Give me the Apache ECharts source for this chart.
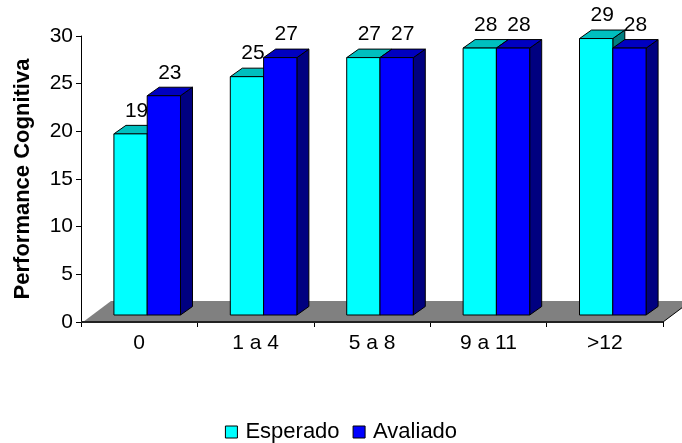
<!DOCTYPE html>
<html>
<head>
<meta charset="utf-8">
<script src="https://cdn.jsdelivr.net/npm/echarts@6/dist/echarts.min.js"></script>
<style>
  html, body { margin: 0; padding: 0; background: #fff; }
  #chart { width: 682px; height: 443px; }
</style>
</head>
<body>
<div id="chart"></div>
<script>
// Schooling bands and the cognitive performance scores per band
const categories = ['0', '1 a 4', '5 a 8', '9 a 11', '>12'];
const esperado = [19, 25, 27, 28, 29];
const avaliado = [23, 27, 27, 28, 28];
const yTicks = { min: 0, max: 30, interval: 5 };

const FONT = '"Liberation Sans", Arial, Helvetica, sans-serif';

// 3D box look: front face lifted off the axis, plus a receding top and side
const LIFT_X = 8, LIFT_Y = 7;      // front face offset from the axis floor line
const DEPTH_X = 12, DEPTH_Y = -8.5; // box depth
const BAR_FRAC = 0.286;             // bar width as a share of the category band

const palette = [
  { front: '#00FFFF', top: '#00BFBF', side: '#008080' },
  { front: '#0000FF', top: '#0000C0', side: '#000080' }
];

function boxRenderer(seriesIdx) {
  return function (params, api) {
    const cat = api.value(0);
    const val = api.value(1);
    const base = api.coord([cat, 0]);
    const top = api.coord([cat, val]);
    const band = api.size([1, 0])[0];
    const w = band * BAR_FRAC;
    const x0 = base[0] + LIFT_X - w + seriesIdx * w;
    const x1 = x0 + w;
    const yT = top[1] - LIFT_Y;
    const yB = base[1] - LIFT_Y;
    const c = palette[seriesIdx];
    const line = { stroke: '#000', lineWidth: 1 };
    return {
      type: 'group',
      children: [
        { type: 'polygon', shape: { points: [[x1, yT], [x1 + DEPTH_X, yT + DEPTH_Y], [x1 + DEPTH_X, yB + DEPTH_Y], [x1, yB]] },
          style: Object.assign({ fill: c.side }, line) },
        { type: 'polygon', shape: { points: [[x0, yT], [x0 + DEPTH_X, yT + DEPTH_Y], [x1 + DEPTH_X, yT + DEPTH_Y], [x1, yT]] },
          style: Object.assign({ fill: c.top }, line) },
        { type: 'rect', shape: { x: x0, y: yT, width: w, height: yB - yT },
          style: Object.assign({ fill: c.front }, line) },
        { type: 'text', x: (x0 + x1) / 2 + DEPTH_X / 2, y: yT + DEPTH_Y - 4,
          style: { text: String(val), fill: '#000', font: '21px ' + FONT, align: 'center', verticalAlign: 'bottom' } }
      ]
    };
  };
}

// Grey floor plane that the boxes stand on
function floorRenderer(params, api) {
  const cs = params.coordSys;
  const yF = cs.y + cs.height;
  const xl = cs.x + 2, xr = cs.x + cs.width;
  const dx = 28, dy = -21;
  return {
    type: 'group',
    children: [
      { type: 'polygon', shape: { points: [[xl, yF], [xl + dx, yF + dy], [xr + dx, yF + dy], [xr, yF]] },
        style: { fill: '#808080' } },
      { type: 'polyline', shape: { points: [[xr + dx, yF + dy], [xr, yF]] },
        style: { stroke: '#000', lineWidth: 1, fill: null } },
      { type: 'line', shape: { x1: cs.x, y1: yF, x2: xr, y2: yF },
        style: { stroke: '#222', lineWidth: 2 } }
    ]
  };
}

const chart = echarts.init(document.getElementById('chart'), null, { renderer: 'canvas' });
chart.setOption({
  animation: false,
  backgroundColor: '#fff',
  textStyle: { fontFamily: FONT },
  grid: { left: 81, right: 19, top: 36, bottom: 121 },
  legend: {
    data: ['Esperado', 'Avaliado'],
    top: 421,
    left: 'center',
    padding: 0,
    icon: 'rect',
    itemWidth: 12,
    itemHeight: 12,
    itemGap: 13,
    textStyle: { fontSize: 22, color: '#000', fontFamily: FONT, padding: [0, 0, 0, 3] },
    itemStyle: { borderColor: '#000', borderWidth: 1 }
  },
  xAxis: {
    type: 'category',
    data: categories,
    boundaryGap: true,
    axisLine: { lineStyle: { color: '#000', width: 1 } },
    axisTick: { show: true, interval: 0, length: 5, lineStyle: { color: '#000' } },
    axisLabel: { color: '#000', fontSize: 21, margin: 11, fontFamily: FONT, interval: 0 },
    splitLine: { show: false }
  },
  yAxis: {
    type: 'value',
    min: yTicks.min,
    max: yTicks.max,
    interval: yTicks.interval,
    name: 'Performance Cognitiva',
    nameLocation: 'middle',
    nameGap: 47,
    nameTextStyle: { fontSize: 22, fontWeight: 'bold', color: '#000', fontFamily: FONT },
    axisLine: { show: true, lineStyle: { color: '#000', width: 1 } },
    axisTick: { show: true, length: 5, lineStyle: { color: '#000' } },
    axisLabel: { color: '#000', fontSize: 21, margin: 8, fontFamily: FONT },
    splitLine: { show: false }
  },
  series: [
    {
      type: 'custom',
      name: 'floor',
      renderItem: floorRenderer,
      data: [[0, 0]],
      silent: true,
      z: 1
    },
    {
      type: 'custom',
      name: 'Esperado',
      renderItem: boxRenderer(0),
      itemStyle: { color: '#00FFFF' },
      data: esperado.map((v, i) => [i, v]),
      z: 2
    },
    {
      type: 'custom',
      name: 'Avaliado',
      renderItem: boxRenderer(1),
      itemStyle: { color: '#0000FF' },
      data: avaliado.map((v, i) => [i, v]),
      z: 3
    }
  ]
});
</script>
</body>
</html>
